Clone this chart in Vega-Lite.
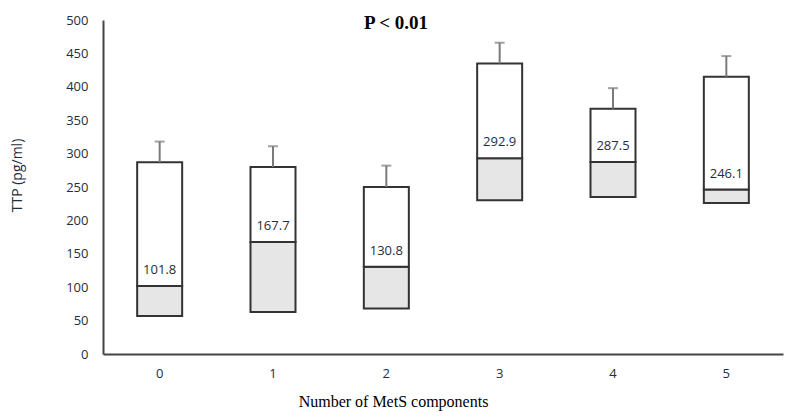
{
  "$schema": "https://vega.github.io/schema/vega-lite/v6.json",
  "autosize": {"type": "none"},
  "padding": {"left": 103, "top": 20, "right": 5, "bottom": 66},
  "width": 680,
  "height": 334,
  "background": "white",
  "config": {
    "view": {"stroke": null},
    "axisY": {
      "labelOverlap": false,
      "values": [0, 50, 100, 150, 200, 250, 300, 350, 400, 450, 500],
      "labelFont": "Open Sans",
      "labelFontSize": 13,
      "labelColor": "#1f2d3d",
      "labelPadding": 15,
      "ticks": false,
      "grid": false,
      "domainColor": "#444444",
      "domainWidth": 2
    }
  },
  "title": {
    "text": "P < 0.01",
    "font": "Liberation Serif",
    "fontSize": 19,
    "fontWeight": "bold",
    "color": "#000000",
    "anchor": "middle",
    "dx": -47,
    "dy": 22,
    "offset": -12,
    "baseline": "alphabetic"
  },
  "data": {
    "values": [
      {"n": "0", "low": 57, "median": 101.8, "top": 287, "whisker": 318},
      {"n": "1", "low": 63, "median": 167.7, "top": 280, "whisker": 311},
      {"n": "2", "low": 68, "median": 130.8, "top": 250, "whisker": 282},
      {"n": "3", "low": 230, "median": 292.9, "top": 435, "whisker": 466},
      {"n": "4", "low": 235, "median": 287.5, "top": 367, "whisker": 398},
      {"n": "5", "low": 226, "median": 246.1, "top": 415, "whisker": 446}
    ]
  },
  "encoding": {
    "x": {
      "field": "n",
      "type": "nominal",
      "sort": null,
      "scale": {"paddingInner": 0, "paddingOuter": 0},
      "axis": {
        "title": "Number of MetS components",
        "titleFont": "Liberation Serif",
        "titleFontSize": 16,
        "titleFontWeight": "normal",
        "titleColor": "#000000",
        "titleX": 290,
        "titleY": 52,
        "titleBaseline": "alphabetic",
        "labelAngle": 0,
        "labelFont": "Open Sans",
        "labelFontSize": 13,
        "labelColor": "#1f2d3d",
        "labelPadding": 13,
        "ticks": false,
        "domainColor": "#444444",
        "domainWidth": 2,
        "grid": false
      }
    }
  },
  "layer": [
    {
      "mark": {"type": "bar", "size": 45, "fill": "#e6e6e6", "stroke": "#333333", "strokeWidth": 2},
      "encoding": {
        "y": {
          "field": "low",
          "type": "quantitative",
          "scale": {"domain": [0, 500], "nice": false},
          "axis": {
            "title": "TTP (pg/ml)",
            "titleFont": "Open Sans",
            "titleFontSize": 14,
            "titleFontWeight": "normal",
            "titleColor": "#1f2d3d",
            "titleX": -86,
            "titleY": 155,
            "titleAngle": -90,
            "titleBaseline": "middle",
            "titleAlign": "center",
            "values": [0, 50, 100, 150, 200, 250, 300, 350, 400, 450, 500],
            "labelOverlap": false
          }
        },
        "y2": {"field": "median"}
      }
    },
    {
      "mark": {"type": "bar", "size": 45, "fill": "#ffffff", "stroke": "#333333", "strokeWidth": 2},
      "encoding": {
        "y": {"field": "median", "type": "quantitative", "axis": {"values": [0, 50, 100, 150, 200, 250, 300, 350, 400, 450, 500], "labelOverlap": false}},
        "y2": {"field": "top"}
      }
    },
    {
      "mark": {"type": "rule", "color": "#7a7a7a", "strokeWidth": 2},
      "encoding": {
        "y": {"field": "top", "type": "quantitative", "axis": {"values": [0, 50, 100, 150, 200, 250, 300, 350, 400, 450, 500], "labelOverlap": false}},
        "y2": {"field": "whisker"}
      }
    },
    {
      "mark": {"type": "tick", "color": "#7a7a7a", "thickness": 2, "size": 10, "orient": "horizontal"},
      "encoding": {
        "y": {"field": "whisker", "type": "quantitative", "axis": {"values": [0, 50, 100, 150, 200, 250, 300, 350, 400, 450, 500], "labelOverlap": false}}
      }
    },
    {
      "mark": {"type": "text", "font": "Open Sans", "fontSize": 13, "color": "#1f2d3d", "dy": -16, "baseline": "middle"},
      "encoding": {
        "y": {"field": "median", "type": "quantitative", "axis": {"values": [0, 50, 100, 150, 200, 250, 300, 350, 400, 450, 500], "labelOverlap": false}},
        "text": {"field": "median", "type": "quantitative", "format": ".1f"}
      }
    }
  ]
}
